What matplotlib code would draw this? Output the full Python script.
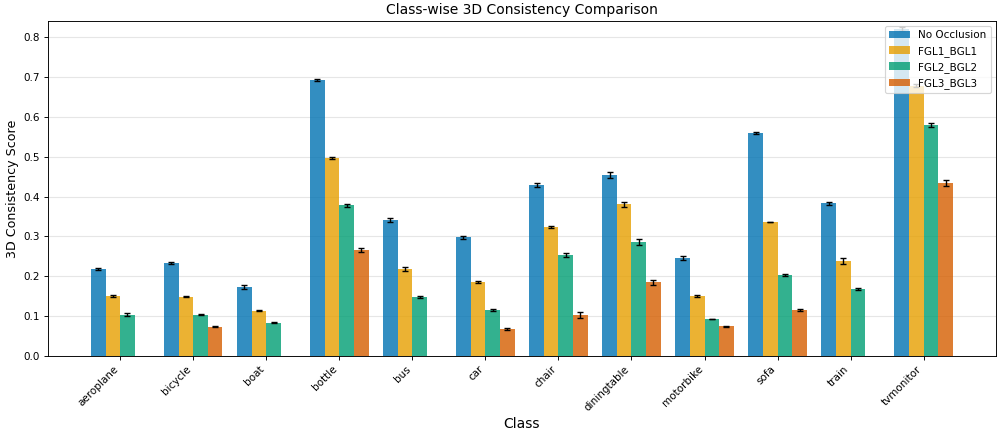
import numpy as np
import matplotlib
matplotlib.use("Agg")
import matplotlib.pyplot as plt

classes = ["aeroplane", "bicycle", "boat", "bottle", "bus", "car", "chair",
           "diningtable", "motorbike", "sofa", "train", "tvmonitor"]
series_names = ["No Occlusion", "FGL1_BGL1", "FGL2_BGL2", "FGL3_BGL3"]

no_occ = [0.218, 0.233, 0.173, 0.692, 0.341, 0.298, 0.429, 0.454, 0.246, 0.559, 0.383, 0.820]
fgl1 = [0.151, 0.149, 0.114, 0.497, 0.218, 0.185, 0.324, 0.381, 0.151, 0.336, 0.239, 0.678]
fgl2 = [0.104, 0.104, 0.084, 0.378, 0.148, 0.116, 0.254, 0.286, 0.093, 0.203, 0.168, 0.579]
fgl3 = [np.nan, 0.074, np.nan, 0.266, np.nan, 0.068, 0.103, 0.185, 0.075, 0.116, np.nan, 0.434]

no_occ_err = [0.002, 0.003, 0.004, 0.002, 0.005, 0.004, 0.004, 0.007, 0.005, 0.003, 0.003, 0.004]
fgl1_err = [0.002, 0.001, 0.002, 0.002, 0.005, 0.003, 0.003, 0.006, 0.002, 0.001, 0.008, 0.004]
fgl2_err = [0.004, 0.001, 0.002, 0.003, 0.002, 0.003, 0.005, 0.008, 0.001, 0.002, 0.002, 0.005]
fgl3_err = [np.nan, 0.002, np.nan, 0.006, np.nan, 0.002, 0.008, 0.006, 0.001, 0.003, np.nan, 0.007]

colors = ["#0072B2", "#E69F00", "#009E73", "#D55E00"]

DPI = 83
fig = plt.figure(figsize=(997 / DPI, 431 / DPI), dpi=DPI)
ax = fig.add_axes([0.048, 0.174, 0.951, 0.777])

x = np.arange(len(classes))
w = 0.2
data = [no_occ, fgl1, fgl2, fgl3]
errs = [no_occ_err, fgl1_err, fgl2_err, fgl3_err]
for i, (vals, err, c, name) in enumerate(zip(data, errs, colors, series_names)):
    ax.bar(x + (i - 1.5) * w, vals, w, yerr=err, color=c, alpha=0.8, label=name,
           capsize=3, error_kw=dict(ecolor="black", elinewidth=1.2, capthick=1.2))

ax.set_xticks(x)
ax.set_xticklabels(classes, rotation=45, ha="right", fontsize=9)
ax.tick_params(axis="y", labelsize=9)
ax.set_ylim(0, 0.84)
ax.set_xlim(-0.99, 11.99)
ax.yaxis.grid(True, color="#e6e6e6", linewidth=1)
ax.set_axisbelow(True)
ax.set_xlabel("Class", fontsize=12)
ax.set_ylabel("3D Consistency Score", fontsize=11)
ax.set_title("Class-wise 3D Consistency Comparison", fontsize=12)
ax.legend(loc="upper right", fontsize=9)

fig.savefig("out.png", dpi=DPI)
